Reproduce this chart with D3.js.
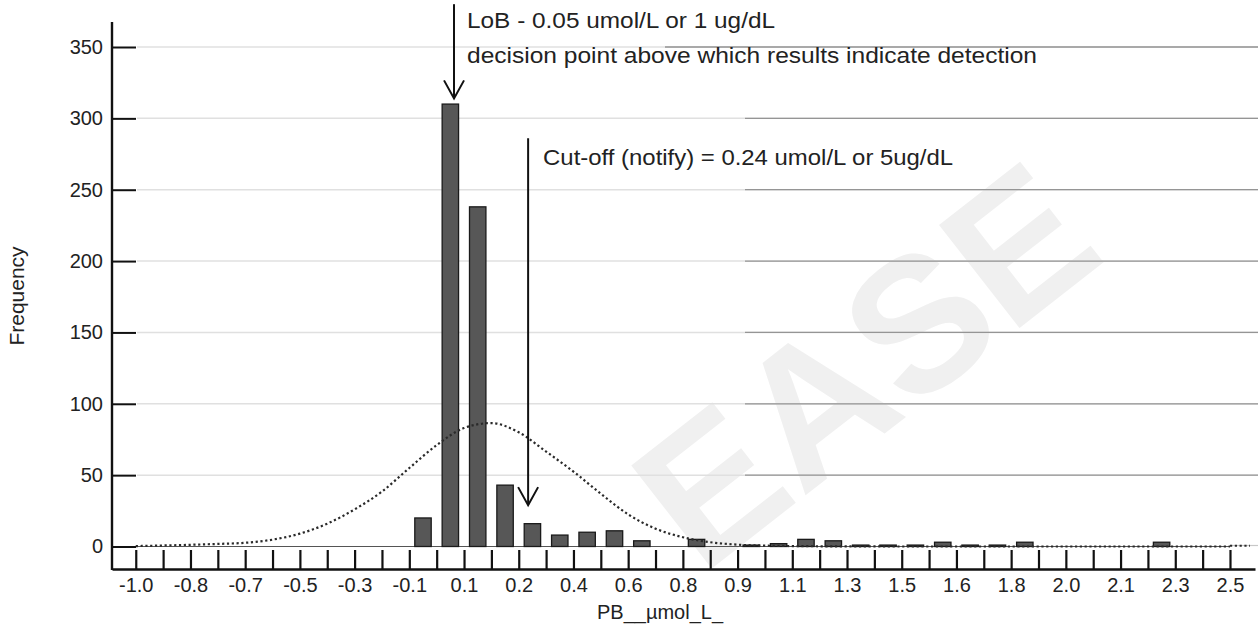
<!DOCTYPE html>
<html>
<head>
<meta charset="utf-8">
<script src="https://cdn.jsdelivr.net/npm/d3@7"></script>
<style>
  html, body { margin: 0; padding: 0; background: #fff; }
  svg { display: block; font-family: "Liberation Sans", Arial, Helvetica, sans-serif; }
</style>
</head>
<body>
<svg id="chart" width="1260" height="643"></svg>
<script>
// ---- data ----
const binStart = -1.0;
const binWidth = 0.0875;
const tickLabels = ["-1.0","-0.8","-0.7","-0.5","-0.3","-0.1","0.1","0.2","0.4","0.6","0.8","0.9","1.1","1.3","1.5","1.6","1.8","2.0","2.1","2.3","2.5"];
const frequencies = [0,0,0,0,0,0,0,0,0,0, 20,310,238,43,16,8,10,11,4,0, 5,0,1,2,5,4,1,1,1,3, 1,1,3,0,0,0,0,3,0,0];
const normalCurve = [0.3,0.7,1.2,1.8,2.6,4.8,9,16,26,38.5, 55,71,83,86.5,80,66.5,52.5,37,22.5,12.5, 6.5,3,1.3,0.6,0.3,0.15,0.1,0.05,0,0, 0,0,0,0,0,0,0,0,0,0,0];
const yTicks = [0,50,100,150,200,250,300,350];
const annotations = [
  { x: 0.018, yTop: 380, yBottom: 314, lines: ["LoB - 0.05 umol/L or 1 ug/dL", "decision point above which results indicate detection"], textY: [20, 55], widths: [308, 570], dx: 13 },
  { x: 0.255, yTop: 286, yBottom: 29, lines: ["Cut-off (notify) = 0.24 umol/L or 5ug/dL"], textY: [157], widths: [410], dx: 15 }
];
const watermark = "EASE";

// ---- layout ----
const svg = d3.select("#chart");
const left = 112, right = 1255, yZero = 546.5, yTopPx = 47, axisY = 569;
const edges = d3.range(frequencies.length + 1).map(i => binStart + binWidth * i);
const x = d3.scaleLinear().domain([-1.076, 2.58]).range([left, right]);
const y = d3.scaleLinear().domain([0, 350]).range([yZero, yTopPx]);
const binPx = x(edges[1]) - x(edges[0]);
const barW = binPx * 0.6;
const bins = frequencies.map((f, i) => ({ f, x0: edges[i], x1: edges[i + 1] }));

// watermark
svg.append("text")
  .attr("transform", "translate(865,365) rotate(-38)")
  .attr("text-anchor", "middle")
  .attr("dominant-baseline", "central")
  .attr("font-size", 190)
  .attr("font-weight", "bold")
  .attr("fill", "#f0f0f0")
  .text(watermark);

// gridlines
const grid = svg.append("g");
grid.selectAll("line.g1").data(yTicks.filter(d => d > 0)).join("line")
  .attr("x1", left + 25).attr("x2", 1258)
  .attr("y1", d => y(d)).attr("y2", d => y(d))
  .attr("stroke", "#e0e0e0").attr("stroke-width", 1.5);
grid.selectAll("line.g2").data(yTicks.filter(d => d > 0)).join("line")
  .attr("x1", d => d === 350 ? 665 : 745).attr("x2", 1258)
  .attr("y1", d => y(d)).attr("y2", d => y(d))
  .attr("stroke", "#959595").attr("stroke-width", 1.3);

// baseline row (top of bin boxes)
svg.append("line")
  .attr("x1", left).attr("x2", x(edges[edges.length - 1]))
  .attr("y1", yZero).attr("y2", yZero)
  .attr("stroke", "#555").attr("stroke-width", 1.2);
svg.append("line")
  .attr("x1", x(edges[edges.length - 1])).attr("x2", 1258)
  .attr("y1", yZero - 1).attr("y2", yZero - 1)
  .attr("stroke", "#c8c8c8").attr("stroke-width", 1.2);

// bars
svg.append("g").selectAll("rect").data(bins.filter(b => b.f > 0)).join("rect")
  .attr("x", d => x(d.x0) + (binPx - barW) / 2)
  .attr("width", barW)
  .attr("y", d => y(d.f))
  .attr("height", d => yZero - y(d.f))
  .attr("fill", "#575757")
  .attr("stroke", "#1a1a1a")
  .attr("stroke-width", 1.3);

// normal curve (dotted)
const line = d3.line()
  .x((d, i) => x(edges[i]))
  .y(d => y(d))
  .curve(d3.curveMonotoneX);
svg.append("path")
  .datum(normalCurve)
  .attr("d", line)
  .attr("fill", "none")
  .attr("stroke", "#2a2a2a")
  .attr("stroke-width", 2.2)
  .attr("stroke-dasharray", "2.2,2.6");
svg.append("line")
  .attr("x1", x(edges[edges.length - 1])).attr("x2", 1250)
  .attr("y1", y(0.5)).attr("y2", y(0.5))
  .attr("stroke", "#2a2a2a").attr("stroke-width", 2).attr("stroke-dasharray", "2.2,2.6");

// x axis
const xAxis = d3.axisBottom(x)
  .tickValues(edges)
  .tickSizeInner(-19)
  .tickSizeOuter(0)
  .tickPadding(9)
  .tickFormat((d, i) => i % 2 === 0 ? tickLabels[i / 2] : "");
const gx = svg.append("g").attr("transform", `translate(0,${axisY})`).call(xAxis);
gx.select(".domain").attr("stroke", "#111").attr("stroke-width", 2.4);
gx.selectAll(".tick line").attr("stroke", "#111").attr("stroke-width", 2.2);
gx.selectAll(".tick text").attr("font-size", 20).attr("fill", "#222")
  .attr("font-family", "'Liberation Sans', Arial, sans-serif");

// y axis
const yAxis = d3.axisLeft(y)
  .tickValues(yTicks)
  .tickSizeInner(-24)
  .tickSizeOuter(0)
  .tickPadding(9);
const gy = svg.append("g").attr("transform", `translate(${left},0)`).call(yAxis);
gy.select(".domain").remove();
gy.selectAll(".tick line").attr("stroke", "#111").attr("stroke-width", 2);
gy.selectAll(".tick text").attr("font-size", 20).attr("fill", "#222")
  .attr("font-family", "'Liberation Sans', Arial, sans-serif");
svg.append("line")
  .attr("x1", left).attr("x2", left).attr("y1", 22).attr("y2", axisY + 1)
  .attr("stroke", "#111").attr("stroke-width", 2.4);

// axis titles
svg.append("text")
  .attr("transform", "translate(24,296) rotate(-90)")
  .attr("text-anchor", "middle")
  .attr("font-size", 21).attr("fill", "#222")
  .text("Frequency");
svg.append("text")
  .attr("x", 660).attr("y", 619)
  .attr("text-anchor", "middle")
  .attr("font-size", 20).attr("fill", "#222")
  .text("PB__µmol_L_");

// annotations
const ann = svg.append("g");
annotations.forEach(a => {
  const ax = x(a.x), yt = y(a.yTop), yb = y(a.yBottom);
  ann.append("line").attr("x1", ax).attr("x2", ax).attr("y1", yt).attr("y2", yb)
    .attr("stroke", "#111").attr("stroke-width", 2);
  ann.append("path")
    .attr("d", `M${ax - 10},${yb - 18} L${ax},${yb} L${ax + 10},${yb - 18}`)
    .attr("fill", "none").attr("stroke", "#111").attr("stroke-width", 2);
  a.lines.forEach((t, j) => {
    ann.append("text")
      .attr("x", ax + a.dx).attr("y", a.textY[j])
      .attr("dominant-baseline", "central")
      .attr("font-size", 22).attr("fill", "#222")
      .attr("textLength", a.widths[j])
      .attr("lengthAdjust", "spacingAndGlyphs")
      .text(t);
  });
});
</script>
</body>
</html>
